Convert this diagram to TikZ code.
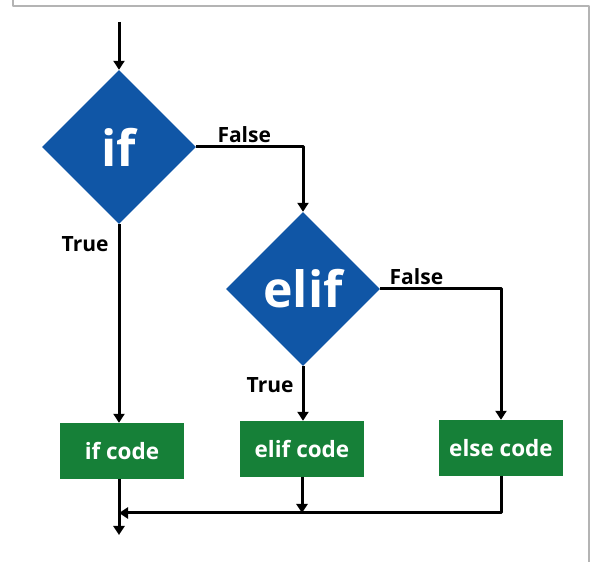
\documentclass[tikz,border=0pt]{standalone}
\usepackage{fontspec}
\setmainfont{Open Sans}
\usetikzlibrary{shapes.geometric,arrows.meta}
\definecolor{ifblue}{RGB}{16,86,166}
\definecolor{codegreen}{RGB}{22,128,56}
\definecolor{framegray}{RGB}{180,180,180}
\begin{document}
\begin{tikzpicture}[x=1pt,y=1pt,line join=round,font=\bfseries,
  >={Triangle[width=11pt,length=9pt]},
  decision/.style={diamond,fill=ifblue,text=white,minimum width=154pt,minimum height=154pt,inner sep=0pt,font=\fontsize{50}{54}\selectfont\bfseries},
  codebox/.style={rectangle,fill=codegreen,text=white,minimum width=124pt,minimum height=56pt,inner sep=0pt,font=\fontsize{22.5}{26}\selectfont\bfseries},
  flow/.style={line width=3pt,black},
  lbl/.style={font=\fontsize{21}{24}\selectfont\bfseries,inner sep=3pt}]
\useasboundingbox (0,0) rectangle (590,562);
\draw[framegray,line width=2pt] (13,562) |- (589,556) -- (589,0);
% decisions
\node[decision] (if) at (119,415) {if};
\node[decision] (elif) at (303,273) {elif};
% code blocks
\node[codebox] (ifcode) at (122,111) {if code};
\node[codebox] (elifcode) at (302,113) {elif code};
\node[codebox] (elsecode) at (501,114) {else code};
\coordinate (start) at (119,540);
\coordinate (stop) at (119,27);
\coordinate (merge) at (119,49);
% connectors
\draw[flow,->] (start) -- (if.north);
\draw[flow,->] (if.east) -- node[lbl,above,pos=0.45]{False} (elif.north |- if.east) -- (elif.north);
\draw[flow,->] (if.south) -- node[lbl,left,pos=0.1,xshift=-6pt]{True} (if.south |- ifcode.north);
\draw[flow,->] (elif.east) -- node[lbl,above,pos=0.3]{False} (elsecode.north |- elif.east) -- (elsecode.north);
\draw[flow,->] (elif.south) -- node[lbl,left,pos=0.35,xshift=-5pt]{True} (elif.south |- elifcode.north);
\draw[flow,->] (elifcode.south) -- (elifcode.south |- merge);
\draw[flow,->] (elsecode.south) -- (elsecode.south |- merge) -- (merge);
\draw[flow,->] (ifcode.south -| merge) -- (stop);
\end{tikzpicture}
\end{document}
